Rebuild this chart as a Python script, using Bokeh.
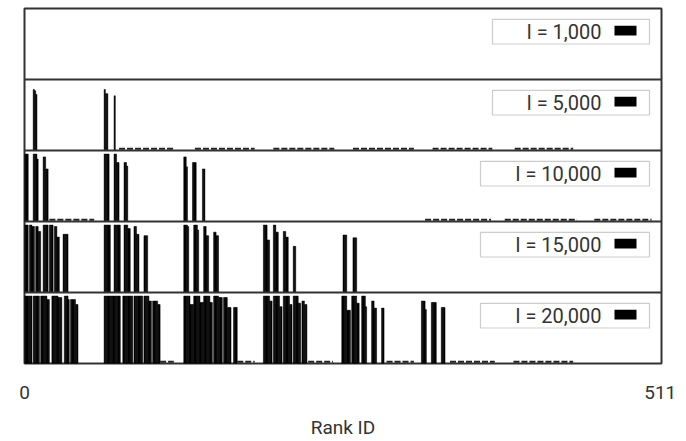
from bokeh.plotting import figure
from bokeh.models import Range1d, FixedTicker, Span, BoxAnnotation, Label
from bokeh.embed import file_html
from bokeh.resources import INLINE

# ---------------- data ----------------
labels = ["l = 1,000", "l = 5,000", "l = 10,000", "l = 15,000", "l = 20,000"]
tick_values = [0, 511]
n_ranks = 512

# (first rank, heights of consecutive ranks as fraction of panel height)
bars_1000 = []
bars_5000 = [(7, [0.86, 0.84, 0.79]), (64, [0.86, 0.80, 0.80]), (72, [0.77])]
bars_10000 = [(0, [0.95, 0.95, 0.95]), (7, [0.95, 0.95, 0.95, 0.88]), (15, [0.91, 0.91, 0.74, 0.74]),
              (64, [0.95, 0.95, 0.95, 0.95]), (72, [0.95, 0.95, 0.83, 0.83]), (80, [0.83, 0.83, 0.78]),
              (128, [0.91, 0.91, 0.77]), (135, [0.83, 0.83, 0.83]), (143, [0.74, 0.74])]
bars_15000 = [(0, [0.95, 0.95, 0.95]), (4, [0.95, 0.95, 0.93, 0.93]), (9, [0.93, 0.93, 0.86, 0.86]),
              (15, [0.95, 0.95, 0.95, 0.95]), (20, [0.95, 0.95, 0.95]), (24, [0.93, 0.93, 0.78, 0.78]),
              (31, [0.82, 0.82, 0.82, 0.82]),
              (64, [0.95, 0.95, 0.95, 0.95, 0.95]), (72, [0.95, 0.95, 0.95, 0.95, 0.95]),
              (80, [0.95, 0.95, 0.95, 0.90, 0.90]), (88, [0.93, 0.93, 0.82, 0.82]), (96, [0.80, 0.80, 0.80]),
              (128, [0.95, 0.95, 0.95, 0.93]), (136, [0.95, 0.95, 0.95, 0.88]),
              (144, [0.93, 0.93, 0.80, 0.80]), (152, [0.85, 0.85, 0.80, 0.80]),
              (192, [0.95, 0.95, 0.95, 0.74, 0.74]), (200, [0.95, 0.95, 0.85, 0.85]),
              (208, [0.86, 0.86, 0.78, 0.78]), (216, [0.65, 0.65]),
              (256, [0.81, 0.81, 0.81]), (264, [0.77, 0.77, 0.77])]
bars_20000 = [(0, [0.95, 0.95, 0.95, 0.95, 0.95, 0.95]), (7, [0.95, 0.95, 0.95, 0.95, 0.95]),
              (13, [0.95, 0.95, 0.95, 0.95, 0.95, 0.90, 0.90]),
              (22, [0.95, 0.95, 0.95, 0.95, 0.95, 0.93, 0.93, 0.93]),
              (32, [0.95, 0.95, 0.95, 0.90]), (37, [0.90, 0.90, 0.90, 0.90, 0.83, 0.83]),
              (64, [0.95, 0.95, 0.95, 0.95, 0.95]), (69, [0.95, 0.95, 0.95, 0.95, 0.95, 0.95, 0.95, 0.95]),
              (79, [0.95, 0.95, 0.95, 0.95, 0.95, 0.95, 0.95, 0.95]),
              (88, [0.95, 0.95, 0.95, 0.95, 0.95, 0.95, 0.95]),
              (96, [0.95, 0.95, 0.95, 0.95, 0.88, 0.88]), (103, [0.88, 0.88, 0.88, 0.88]), (107, [0.83, 0.83]),
              (128, [0.95, 0.95, 0.95, 0.95, 0.95]), (133, [0.83, 0.83, 0.83]),
              (136, [0.95, 0.95, 0.95, 0.95, 0.95]), (141, [0.86, 0.86, 0.86]),
              (144, [0.95, 0.95, 0.95, 0.95, 0.95]), (149, [0.86, 0.86]),
              (152, [0.95, 0.95, 0.95, 0.95]), (156, [0.93, 0.93, 0.93]),
              (160, [0.93, 0.93, 0.93, 0.79, 0.79, 0.79]), (168, [0.79, 0.79, 0.79]),
              (192, [0.95, 0.95, 0.95, 0.95, 0.95]), (197, [0.88, 0.88]),
              (200, [0.95, 0.95, 0.95, 0.95, 0.95]), (205, [0.80, 0.80]),
              (208, [0.95, 0.95, 0.95, 0.95, 0.95]), (213, [0.83, 0.83]),
              (216, [0.95, 0.95, 0.95, 0.95]), (220, [0.85, 0.85]), (223, [0.88, 0.88, 0.83, 0.83]),
              (255, [0.95, 0.95, 0.95, 0.95]), (259, [0.75, 0.75, 0.75]),
              (263, [0.95, 0.95, 0.95, 0.95]), (267, [0.85, 0.85]),
              (271, [0.95, 0.95, 0.95, 0.80]), (279, [0.88, 0.88, 0.78, 0.78]), (287, [0.78, 0.78]),
              (319, [0.88, 0.88, 0.88, 0.76]), (327, [0.86, 0.86, 0.86, 0.86]), (335, [0.79, 0.79, 0.79])]

# near-zero ranks drawn as short dashes along the baseline: (first rank, last rank)
dash_1000 = []
dash_5000 = [(76, 120), (137, 184), (200, 248), (264, 312), (328, 375), (394, 440)]
dash_10000 = [(20, 55), (322, 374), (386, 443), (458, 503)]
dash_15000 = []
dash_20000 = [(109, 119), (171, 184), (228, 247), (291, 312), (342, 377), (393, 440)]
dash_level = 0.025

panel_bars = [bars_1000, bars_5000, bars_10000, bars_15000, bars_20000]
panel_dashes = [dash_1000, dash_5000, dash_10000, dash_15000, dash_20000]

# ---------------- layout ----------------
FRAME_W, FRAME_H = 637, 360
n_panels = len(labels)
px_x = FRAME_W / n_ranks
px_y = FRAME_H / n_panels
ink = "#333333"

p = figure(width=682, height=441, output_backend="svg", toolbar_location=None,
           x_range=Range1d(0, n_ranks), y_range=Range1d(0, n_panels),
           min_border_left=24, min_border_right=21, min_border_top=8, min_border_bottom=73,
           y_axis_location=None)
p.xgrid.visible = False
p.ygrid.visible = False
p.outline_line_color = ink
p.outline_line_width = 2
p.background_fill_color = "white"

ax = p.xaxis[0]
ax.ticker = FixedTicker(ticks=tick_values)
ax.axis_line_color = None
ax.major_tick_line_color = None
ax.minor_tick_line_color = None
ax.major_label_standoff = 16
ax.major_label_text_font = "Roboto"
ax.major_label_text_font_size = "19px"
ax.major_label_text_color = ink
ax.axis_label = "Rank ID"
ax.axis_label_text_font = "Roboto"
ax.axis_label_text_font_size = "19px"
ax.axis_label_text_font_style = "normal"
ax.axis_label_text_color = ink
ax.axis_label_standoff = 14

left, right, bottom, top = [], [], [], []
sx0, sx1, sy = [], [], []
for i, (bars, dashes) in enumerate(zip(panel_bars, panel_dashes)):
    base = n_panels - 1 - i
    for start, heights in bars:
        for j, h in enumerate(heights):
            left.append(start + j)
            right.append(start + j + 1)
            bottom.append(base)
            top.append(base + h)
    for a, b in dashes:
        sx0.append(a)
        sx1.append(b + 1)
        sy.append(base + dash_level)

p.quad(left=left, right=right, bottom=bottom, top=top,
       fill_color="black", line_color="black", line_width=0.5)
p.segment(x0=sx0, x1=sx1, y0=sy, y1=sy, line_color="#222222", line_width=2, line_dash="6 2")

for k in range(1, n_panels):
    p.add_layout(Span(location=k, dimension="width", line_color=ink, line_width=2))

# legend boxes (label left, swatch right), placed by pixel offsets from each panel's corner
box_w_px = [157, 157, 169, 169, 169]
for i, lab in enumerate(labels):
    panel_top = n_panels - i
    b_top = panel_top - 11 / px_y
    b_bot = panel_top - 36 / px_y
    b_right = n_ranks - 12 / px_x
    b_left = b_right - box_w_px[i] / px_x
    mid = (b_top + b_bot) / 2
    p.add_layout(BoxAnnotation(left=b_left, right=b_right, top=b_top, bottom=b_bot,
                               fill_color="white", fill_alpha=1.0,
                               line_color="#555555", line_width=1.2, level="annotation"))
    p.add_layout(BoxAnnotation(left=b_right - 35 / px_x, right=b_right - 13 / px_x,
                               top=mid + 6 / px_y, bottom=mid - 4 / px_y,
                               fill_color="black", fill_alpha=1.0, line_color="black",
                               line_width=0, level="overlay"))
    p.add_layout(Label(x=b_right - 48 / px_x, y=mid, text=lab, text_align="right",
                       text_baseline="middle", text_font="Roboto", text_font_size="20px",
                       text_color=ink, level="overlay"))

open("out.html", "w").write(file_html(p, INLINE))
